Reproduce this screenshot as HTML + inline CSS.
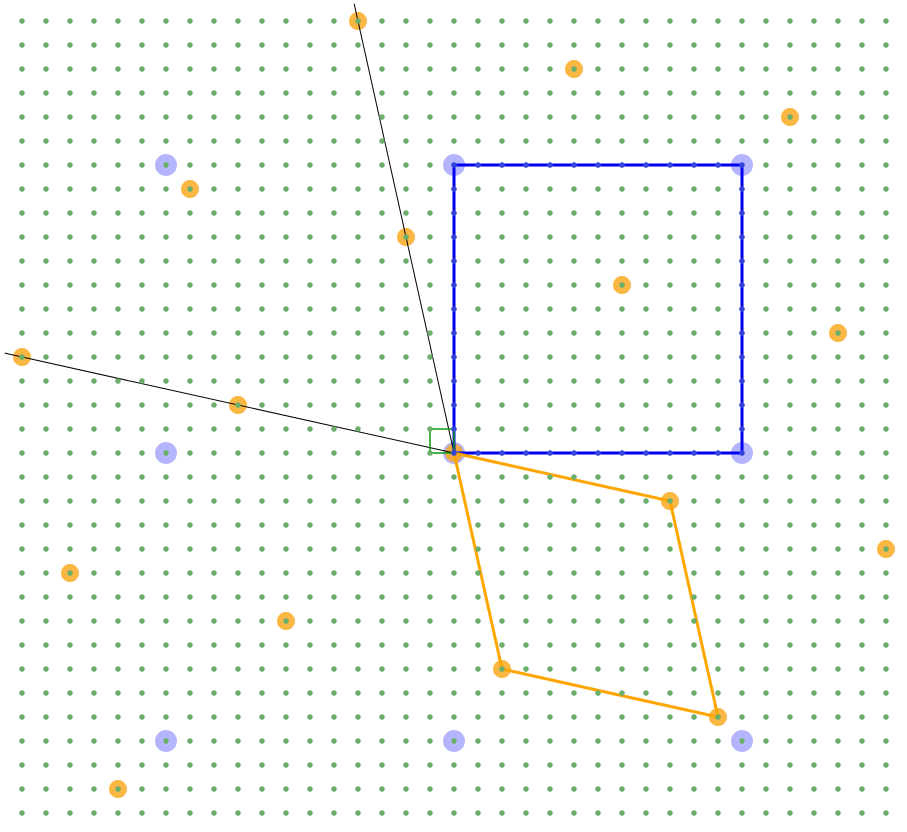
<!DOCTYPE html>
<html><head><meta charset="utf-8"><style>
html,body{margin:0;padding:0;background:#fff;}
svg{display:block;}
</style></head><body>
<svg id="chart" width="907" height="832" viewBox="0 0 907 832" xmlns="http://www.w3.org/2000/svg"></svg>
<script>
// data
const originCol = 18, originRow = 18;
const gridCols = 37, gridRows = 34;
const basisA = [9, 2];
const basisB = [2, 9];
const squareSide = [12];
const blueLatticeStep = [12];
const rayA = [-18, -4];
const rayB = [-4, -18];

const NS = 'http://www.w3.org/2000/svg';
const svg = document.getElementById('chart');
const step = 24, x0 = 22, y0 = 21;
function px(c){ return x0 + (originCol + c) * step; }
function py(r){ return y0 + (originRow + r) * step; }
function inGrid(c, r){ const cc = c + originCol, rr = r + originRow; return cc >= 0 && cc < gridCols && rr >= 0 && rr < gridRows; }
function mk(tag, attrs, parent){ const e = document.createElementNS(NS, tag); for (const k in attrs) e.setAttribute(k, attrs[k]); (parent || svg).appendChild(e); return e; }

const gBlue = mk('g', {});


const gOrange = mk('g', {});



// rays
[rayA, rayB].forEach((v, i) => {
  const l = mk('line', {x1: px(0), y1: py(0), x2: px(v[0] * 1.04), y2: py(v[1] * 1.04), stroke: '#000', 'stroke-width': 1});
  
  
});

// blue big circles
const bs = blueLatticeStep[0];
for (let a = -2; a <= 2; a++) for (let b = -2; b <= 2; b++) {
  const c = a * bs, r = b * bs;
  if (!inGrid(c, r)) continue;
  const e = mk('circle', {cx: px(c), cy: py(r), r: 11, fill: 'rgba(90,90,255,0.45)'}, gBlue);
  
  
}
// orange circles
for (let a = -5; a <= 5; a++) for (let b = -5; b <= 5; b++) {
  const c = a * basisA[0] + b * basisB[0], r = a * basisA[1] + b * basisB[1];
  if (!inGrid(c, r)) continue;
  const e = mk('circle', {cx: px(c), cy: py(r), r: 9, fill: 'rgba(250,165,20,0.8)'}, gOrange);
  
  
}

// blue square
const s = squareSide[0];
const sq = mk('polygon', {points: [[0,0],[s,0],[s,-s],[0,-s]].map(p => px(p[0]) + ',' + py(p[1])).join(' '), fill: 'none', stroke: '#0000ee', 'stroke-width': 3});



// orange parallelogram
const pg = mk('polygon', {points: [[0,0], basisA, [basisA[0]+basisB[0], basisA[1]+basisB[1]], basisB].map(p => px(p[0]) + ',' + py(p[1])).join(' '), fill: 'none', stroke: '#ffa500', 'stroke-width': 3});



// unit cell
const uc = mk('rect', {x: px(-1), y: py(-1), width: step, height: step, fill: 'none', stroke: '#119911', 'stroke-width': 1.5});



// green dots
const gGreen = mk('g', {});


for (let i = 0; i < gridCols; i++) for (let j = 0; j < gridRows; j++) {
  const c = i - originCol, r = j - originRow;
  const onSq = (c >= 0 && c <= s && r <= 0 && r >= -s) && (c === 0 || c === s || r === 0 || r === -s);
  const e = mk('circle', {cx: px(c), cy: py(r), r: 2.8, fill: onSq ? '#3344dd' : '#6aaf6a'}, gGreen);
  
  
}
</script>
</body></html>
